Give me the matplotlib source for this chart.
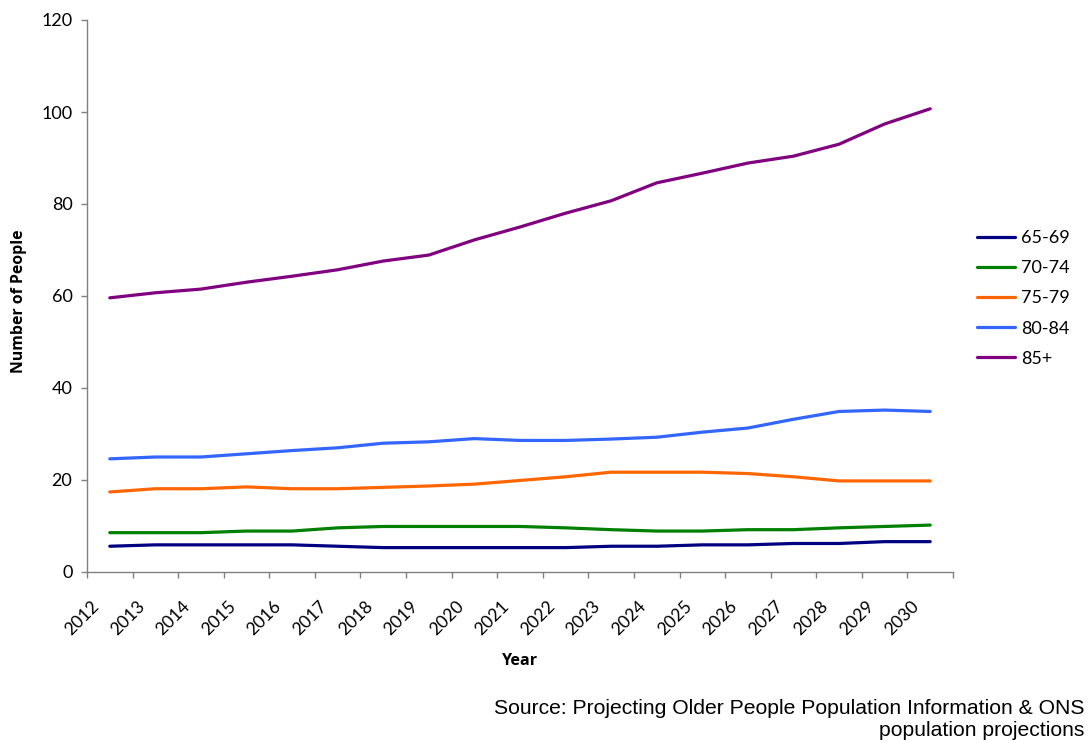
import matplotlib
matplotlib.use("Agg")
import matplotlib.pyplot as plt
import matplotlib.transforms as mtransforms
import numpy as np

years = [str(y) for y in range(2012, 2031)]
series_names = ["65-69", "70-74", "75-79", "80-84", "85+"]
s65_69 = [5.6, 5.9, 5.9, 5.9, 5.9, 5.6, 5.3, 5.3, 5.3, 5.3, 5.3, 5.6, 5.6, 5.9, 5.9, 6.2, 6.2, 6.6, 6.6]
s70_74 = [8.55, 8.55, 8.55, 8.9, 8.9, 9.6, 9.9, 9.9, 9.9, 9.9, 9.6, 9.2, 8.9, 8.9, 9.2, 9.2, 9.6, 9.9, 10.2]
s75_79 = [17.4, 18.1, 18.1, 18.5, 18.1, 18.1, 18.4, 18.7, 19.1, 19.9, 20.7, 21.7, 21.7, 21.7, 21.4, 20.7, 19.8, 19.8, 19.8]
s80_84 = [24.6, 25.0, 25.0, 25.7, 26.4, 27.0, 28.0, 28.3, 29.0, 28.6, 28.6, 28.9, 29.3, 30.4, 31.3, 33.2, 34.9, 35.2, 34.9]
s85p = [59.6, 60.7, 61.5, 63.0, 64.3, 65.7, 67.6, 68.9, 72.2, 75.0, 78.0, 80.7, 84.6, 86.7, 88.9, 90.4, 93.0, 97.4, 100.7]
colors = ["#000080", "#008000", "#FF6600", "#3366FF", "#800080"]
yticks = [0, 20, 40, 60, 80, 100, 120]

fig = plt.figure(figsize=(10.89, 7.43), dpi=100)
ax = fig.add_axes([87/1089, 1-572/743, (953-87)/1089, (572-20)/743])

x = np.arange(len(years))
for name, vals, c in zip(series_names, [s65_69, s70_74, s75_79, s80_84, s85p], colors):
    ax.plot(x, vals, color=c, lw=2.3, label=name, solid_joinstyle="round", solid_capstyle="round")

ax.set_xlim(-0.5, len(years) - 0.5)
ax.set_ylim(0, 120)
ax.set_yticks(yticks)
ax.set_yticklabels([str(v) for v in yticks], fontfamily="Lato", fontsize=13)
ax.tick_params(axis="y", direction="out", length=4.5, width=1, color="#808080", pad=6)

ax.set_xticks(x)
ax.set_xticks(np.arange(len(years) + 1) - 0.5, minor=True)
ax.tick_params(axis="x", which="major", length=0, pad=19)
ax.tick_params(axis="x", which="minor", direction="out", length=4.5, width=1, color="#808080")
ax.set_xticklabels(years, rotation=45, ha="right", rotation_mode="anchor",
                   fontfamily="Lato", fontsize=12.6)
offset = mtransforms.ScaledTranslation(-19/100, 0, fig.dpi_scale_trans)
for lab in ax.get_xticklabels():
    lab.set_transform(lab.get_transform() + offset)

for sp in ["top", "right"]:
    ax.spines[sp].set_visible(False)
for sp in ["left", "bottom"]:
    ax.spines[sp].set_color("#808080")
    ax.spines[sp].set_linewidth(1)

fig.text(19/1089, 1-301/743, "Number of People", rotation=90, ha="center", va="center",
         fontfamily="Open Sans", fontweight="bold", fontsize=11.4)
fig.text(520/1089, 1-661/743, "Year", ha="center", va="center",
         fontfamily="Open Sans", fontweight="bold", fontsize=11.6)

leg = fig.legend(loc="upper left", bbox_to_anchor=(961/1089, 1-214/743), frameon=False,
                 prop={"family": "Lato", "size": 13}, handlelength=2.1, handletextpad=0.35,
                 labelspacing=0.78)

fig.text(1084/1089, 1-708/743, "Source: Projecting Older People Population Information & ONS",
         ha="right", va="center", fontfamily="Liberation Sans", fontsize=15.2)
fig.text(1084/1089, 1-731/743, "population projections",
         ha="right", va="center", fontfamily="Liberation Sans", fontsize=15.2)

fig.savefig("out.png", dpi=100)
